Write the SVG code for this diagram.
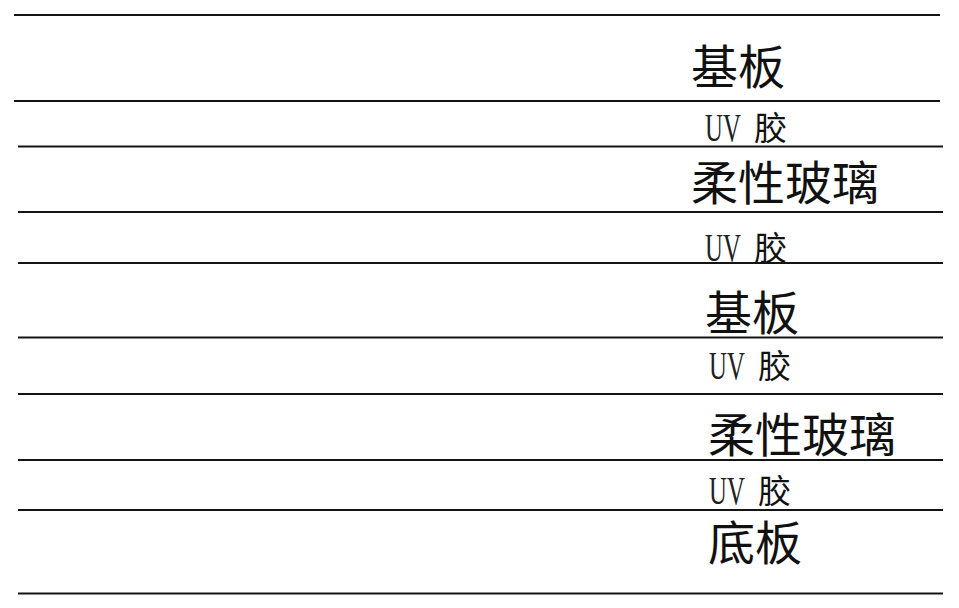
<svg xmlns="http://www.w3.org/2000/svg" width="959" height="608" viewBox="0 0 959 608">
<style>
.ln{stroke:#141414;stroke-width:2.2;fill:none}
.big{font-family:"Liberation Sans","Noto Sans CJK SC",sans-serif;font-size:47px;fill:#111}
.cj{font-family:"Liberation Sans","Noto Sans CJK SC",sans-serif;font-size:33px;fill:#111}
.uv{font-family:"Liberation Serif",serif;font-size:40px;fill:#222}
</style>
<rect width="959" height="608" fill="#fff"/>
<g id="connectors">
<line class="ln" x1="14" y1="15" x2="940" y2="15"/>
<line class="ln" x1="14" y1="101" x2="940" y2="101"/>
<line class="ln" x1="18" y1="146.5" x2="943" y2="146.5"/>
<line class="ln" x1="18" y1="212" x2="943" y2="212"/>
<line class="ln" x1="18" y1="263" x2="943" y2="263"/>
<line class="ln" x1="18" y1="337.5" x2="943" y2="337.5"/>
<line class="ln" x1="18" y1="394" x2="943" y2="394"/>
<line class="ln" x1="18" y1="460" x2="943" y2="460"/>
<line class="ln" x1="18" y1="510" x2="943" y2="510"/>
<line class="ln" x1="18" y1="593.5" x2="943" y2="593.5"/>
</g>
<g id="layer1"><text class="big" x="691" y="84">基板</text></g>
<g id="layer2"><text class="uv" transform="translate(705,141) scale(0.62,1)">UV</text><text class="cj" x="754" y="140">胶</text></g>
<g id="layer3"><text class="big" x="691" y="200">柔性玻璃</text></g>
<g id="layer4"><text class="uv" transform="translate(705,261) scale(0.62,1)">UV</text><text class="cj" x="754" y="260">胶</text></g>
<g id="layer5"><text class="big" x="705" y="330">基板</text></g>
<g id="layer6"><text class="uv" transform="translate(709,379) scale(0.62,1)">UV</text><text class="cj" x="758" y="378">胶</text></g>
<g id="layer7"><text class="big" x="708" y="452">柔性玻璃</text></g>
<g id="layer8"><text class="uv" transform="translate(709,504) scale(0.62,1)">UV</text><text class="cj" x="758" y="503">胶</text></g>
<g id="layer9"><text class="big" x="708" y="560">底板</text></g>
</svg>
